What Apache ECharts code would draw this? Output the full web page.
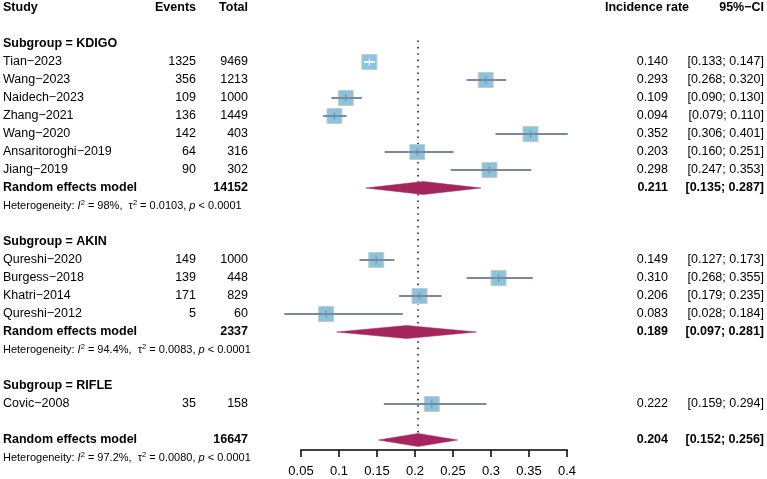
<!DOCTYPE html>
<html><head><meta charset="utf-8">
<script src="https://cdn.jsdelivr.net/npm/echarts/dist/echarts.min.js"></script>
<style>html,body{margin:0;padding:0;background:#fff}#c{width:767px;height:479px}</style>
</head><body><div id="c"></div>
<script>
// ---- data ----
const kdigoStudies = ['Tian\u22122023','Wang\u22122023','Naidech\u22122023','Zhang\u22122021','Wang\u22122020','Ansaritoroghi\u22122019','Jiang\u22122019'];
const kdigoEvents = [1325,356,109,136,142,64,90];
const kdigoTotal = [9469,1213,1000,1449,403,316,302];
const kdigoRate = [0.140,0.293,0.109,0.094,0.352,0.203,0.298];
const kdigoLower = [0.133,0.268,0.090,0.079,0.306,0.160,0.247];
const kdigoUpper = [0.147,0.320,0.130,0.110,0.401,0.251,0.353];

const akinStudies = ['Qureshi\u22122020','Burgess\u22122018','Khatri\u22122014','Qureshi\u22122012'];
const akinEvents = [149,139,171,5];
const akinTotal = [1000,448,829,60];
const akinRate = [0.149,0.310,0.206,0.083];
const akinLower = [0.127,0.268,0.179,0.028];
const akinUpper = [0.173,0.355,0.235,0.184];

const rifleStudies = ['Covic\u22122008'];
const rifleEvents = [35];
const rifleTotal = [158];
const rifleRate = [0.222];
const rifleLower = [0.159];
const rifleUpper = [0.294];

const subgroupNames = ['KDIGO','AKIN','RIFLE'];
const subgroupTotal = [14152,2337];
const subgroupRate = [0.211,0.189];
const subgroupLower = [0.135,0.097];
const subgroupUpper = [0.287,0.281];
const subgroupI2 = ['98%','94.4%'];
const subgroupTau2 = ['0.0103','0.0083'];
const subgroupP = ['< 0.0001','< 0.0001'];

const overallTotal = 16647;
const overallRate = 0.204;
const overallLower = 0.152;
const overallUpper = 0.256;
const overallI2 = '97.2%';
const overallTau2 = '0.0080';
const overallP = '< 0.0001';

const axisTicks = [0.05,0.1,0.15,0.2,0.25,0.3,0.35,0.4];

// ---- build rows ----
const rows = [];
let r = 0;
rows.push({row:r, kind:'header'}); r += 2;
const groups = [
  [kdigoStudies,kdigoEvents,kdigoTotal,kdigoRate,kdigoLower,kdigoUpper],
  [akinStudies,akinEvents,akinTotal,akinRate,akinLower,akinUpper],
  [rifleStudies,rifleEvents,rifleTotal,rifleRate,rifleLower,rifleUpper]
];
groups.forEach((g, gi) => {
  rows.push({row:r++, kind:'subgroup', name:'Subgroup = ' + subgroupNames[gi]});
  g[0].forEach((s, i) => {
    rows.push({row:r++, kind:'study', name:s, ev:g[1][i], tot:g[2][i], est:g[3][i], lo:g[4][i], hi:g[5][i]});
  });
  if (gi < subgroupTotal.length) {
    rows.push({row:r++, kind:'summary', name:'Random effects model', tot:subgroupTotal[gi], est:subgroupRate[gi], lo:subgroupLower[gi], hi:subgroupUpper[gi]});
    rows.push({row:r++, kind:'het', i2:subgroupI2[gi], tau2:subgroupTau2[gi], p:subgroupP[gi]});
  }
  r += 1;
});
rows.push({row:r++, kind:'summary', name:'Random effects model', tot:overallTotal, est:overallRate, lo:overallLower, hi:overallUpper});
rows.push({row:r++, kind:'het', i2:overallI2, tau2:overallTau2, p:overallP});

const FONT = "'Liberation Sans', Arial, Helvetica, sans-serif";
const FS = 12.5;
const f3 = v => v.toFixed(3);
const COL = {study:3, events:196, total:248, rate:668, ci:764, rateHead:689};
const ROW_MAX = 442 / 18; // axis sits just below the last summary row

function txt(text, x, y, align, bold, size) {
  return {type:'text', style:{text:String(text), x:x, y:y, align:align, verticalAlign:'middle',
    font:(bold?'bold ':'') + (size||FS) + 'px ' + FONT, fill:'#000'}};
}

function renderRow(params, api) {
  const d = rows[params.dataIndex];
  const y = api.coord([0.2, d.row])[1];
  const X = v => api.coord([v, d.row])[0];
  const ch = [];
  if (d.kind === 'header') {
    ch.push(txt('Study', COL.study, y, 'left', true));
    ch.push(txt('Events', COL.events, y, 'right', true));
    ch.push(txt('Total', COL.total, y, 'right', true));
    ch.push(txt('Incidence rate', COL.rateHead, y, 'right', true));
    ch.push(txt('95%\u2212CI', COL.ci, y, 'right', true));
  } else if (d.kind === 'subgroup') {
    ch.push(txt(d.name, COL.study, y, 'left', true));
  } else if (d.kind === 'study') {
    ch.push(txt(d.name, COL.study, y, 'left', false));
    ch.push(txt(d.ev, COL.events, y, 'right', false));
    ch.push(txt(d.tot, COL.total, y, 'right', false));
    ch.push(txt(f3(d.est), COL.rate, y, 'right', false));
    ch.push(txt('[' + f3(d.lo) + '; ' + f3(d.hi) + ']', COL.ci, y, 'right', false));
    const cx = X(d.est), xl = X(d.lo), xh = X(d.hi);
    const s = 15;
    ch.push({type:'rect', shape:{x:cx - s/2, y:y - s/2, width:s, height:s},
      style:{fill:'#88c4df', stroke:'#c9c9c9', lineWidth:1}});
    const inside = xl >= cx - s/2 && xh <= cx + s/2;
    const lc = inside ? '#ffffff' : '#7b8a99';
    ch.push({type:'line', shape:{x1:xl, y1:y, x2:xh, y2:y}, style:{stroke:lc, lineWidth:2}});
    ch.push({type:'line', shape:{x1:cx, y1:y - 3.5, x2:cx, y2:y + 3.5}, style:{stroke:lc, lineWidth:1.2}});
  } else if (d.kind === 'summary') {
    ch.push(txt(d.name, COL.study, y, 'left', true));
    ch.push(txt(d.tot, COL.total, y, 'right', true));
    ch.push(txt(f3(d.est), COL.rate, y, 'right', true));
    ch.push(txt('[' + f3(d.lo) + '; ' + f3(d.hi) + ']', COL.ci, y, 'right', true));
    const cx = X(d.est), xl = X(d.lo), xh = X(d.hi), h = 6.5;
    ch.push({type:'polygon', shape:{points:[[xl,y],[cx,y-h],[xh,y],[cx,y+h]]},
      style:{fill:'#a5265d', stroke:'#a5265d', lineWidth:0.5}});
  } else if (d.kind === 'het') {
    ch.push({type:'text', style:{
      text:'{n|Heterogeneity: }{it|I}{sup|2}{n| = ' + d.i2 + ',  }{n|\u03c4}{sup|2}{n| = ' + d.tau2 + ', }{it|p}{n| ' + d.p + '}',
      x:COL.study, y:y, align:'left', verticalAlign:'middle', fill:'#000',
      rich:{
        n:{fontFamily:FONT, fontSize:11, lineHeight:15, fill:'#000'},
        it:{fontFamily:FONT, fontSize:11, fontStyle:'italic', lineHeight:15, fill:'#000'},
        sup:{fontFamily:FONT, fontSize:7.5, verticalAlign:'top', fill:'#000'}
      }}});
  }
  return {type:'group', children:ch};
}

function renderRef(params, api) {
  const top = api.coord([overallRate, 1.8]);
  const bot = api.coord([overallRate, ROW_MAX]);
  return {type:'line', shape:{x1:top[0], y1:top[1], x2:bot[0], y2:bot[1]},
    style:{stroke:'#222', lineWidth:1.6, lineDash:[1.6, 4.8]}};
}

// axis line and ticks, positioned through the x scale
function renderAxis(params, api) {
  const t = api.value(0);
  const p = api.coord([t, ROW_MAX]);
  const ch = [{type:'line', shape:{x1:p[0], y1:p[1], x2:p[0], y2:p[1] + 7},
    style:{stroke:'#000', lineWidth:1.5}}];
  if (params.dataIndex === 0) {
    const q = api.coord([axisTicks[axisTicks.length - 1], ROW_MAX]);
    ch.push({type:'line', shape:{x1:p[0] - 0.75, y1:p[1], x2:q[0] + 0.75, y2:q[1]},
      style:{stroke:'#000', lineWidth:1.5}});
  }
  return {type:'group', children:ch};
}

const chart = echarts.init(document.getElementById('c'), null, {renderer:'canvas'});
chart.setOption({
  animation:false,
  backgroundColor:'#fff',
  grid:{left:301, width:266, top:8, height:442, containLabel:false},
  xAxis:{type:'value', min:0.05, max:0.4, interval:0.05, position:'bottom', show:true,
      axisLine:{show:false},
      axisTick:{show:false},
      axisLabel:{show:true, margin:15, fontSize:13, fontFamily:FONT, color:'#000',
        formatter:v => { const m = axisTicks.find(t => Math.abs(t - v) < 1e-9); return m === undefined ? '' : String(m); }},
      splitLine:{show:false}},
  yAxis:{type:'value', min:0, max:ROW_MAX, inverse:true, show:false},
  series:[
    {type:'custom', clip:false, data:[[overallRate, 0]], renderItem:renderRef, silent:true, z:1},
    {type:'custom', clip:false, data:axisTicks.map(t => [t, ROW_MAX]), renderItem:renderAxis, silent:true, z:1},
    {type:'custom', clip:false, data:rows.map(d => [d.est === undefined ? 0.2 : d.est, d.row]), renderItem:renderRow, silent:true, z:2}
  ]
});
</script>
</body></html>
